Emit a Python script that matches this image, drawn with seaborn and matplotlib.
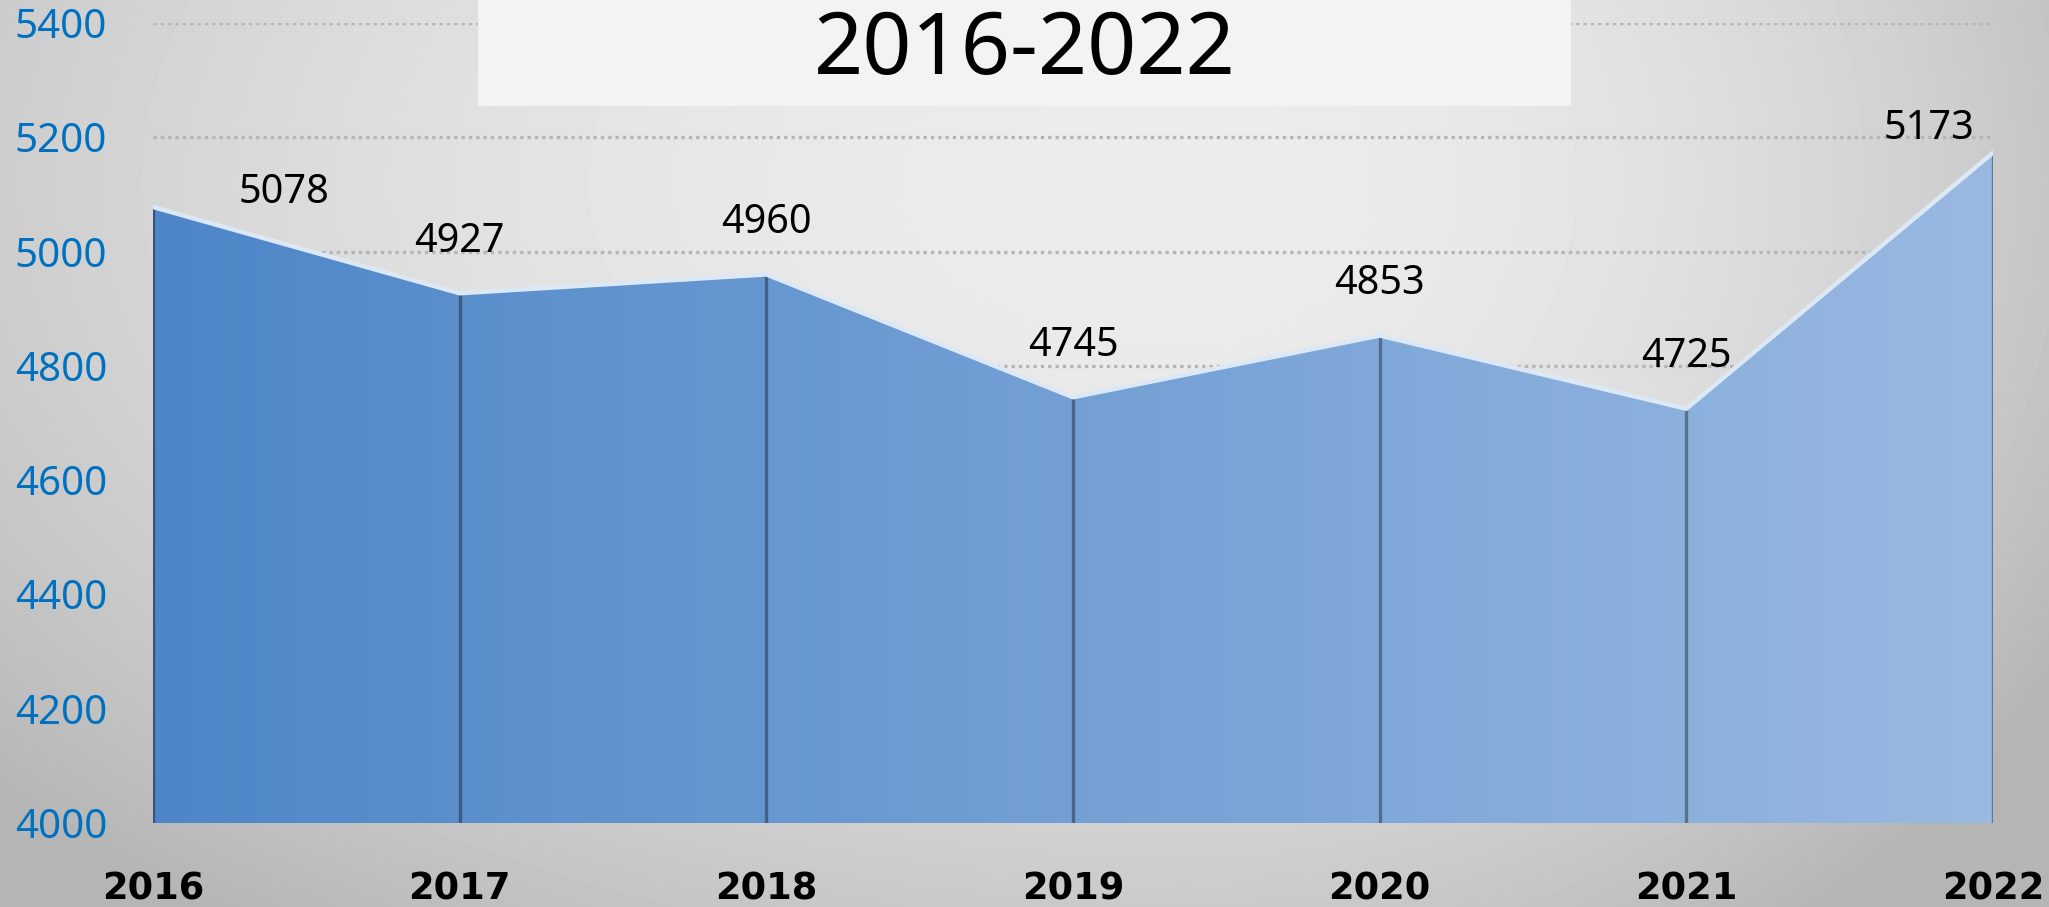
import numpy as np
import pandas as pd
import matplotlib
matplotlib.use('Agg')
import matplotlib.pyplot as plt
import seaborn as sns
from matplotlib.colors import LinearSegmentedColormap, to_rgb
from matplotlib.patches import Rectangle

# data
years = [2016, 2017, 2018, 2019, 2020, 2021, 2022]
values = [5078, 4927, 4960, 4745, 4853, 4725, 5173]
y_ticks = [4000, 4200, 4400, 4600, 4800, 5000, 5200, 5400]
title = '2016-2022'

df = pd.DataFrame({'year': years, 'value': values})

sns.set_theme(style='white')
plt.rcParams['font.family'] = ['Noto Sans', 'DejaVu Sans']

W, H = 2049, 907
fig = plt.figure(figsize=(W / 100, H / 100), dpi=100)

# grey radial background, lighter near the top middle
bg = fig.add_axes([0, 0, 1, 1], zorder=-10)
yy, xx = np.mgrid[0:1:300j, 0:1:600j]
cx, cy = 0.58, 0.2
rx = np.where(xx < cx, 0.65, 0.42)
r2 = ((xx - cx) / rx) ** 2 + ((yy - cy) / 0.85) ** 2
shade = 0.925 - 0.15 * np.minimum(r2, 1.45)
bg.imshow(shade, cmap='gray', vmin=0, vmax=1, extent=[0, 1, 0, 1],
          origin='upper', aspect='auto', interpolation='bilinear')
bg.set_axis_off()

# main axes placed to match the reference
left, right = 153 / W, 1993 / W
bottom, top = 1 - 823 / H, 1 - 23 / H
ax = fig.add_axes([left, bottom, right - left, top - bottom])
ax.patch.set_alpha(0)
ax.set_xlim(years[0], years[-1])
ax.set_ylim(y_ticks[0], y_ticks[-1])

# dotted gridlines behind the area
ax.set_axisbelow(True)
ax.yaxis.grid(True, linestyle=(0, (1, 1.2)), color='#b5b5b5', linewidth=2.4)
ax.xaxis.grid(False)

# area with horizontal gradient
poly = ax.fill_between(df['year'], df['value'], y_ticks[0], color='none', lw=0)
fill_cmap = LinearSegmentedColormap.from_list('fill', ['#4E86C8', '#99B9E1'])
grad = ax.imshow(np.linspace(0, 1, 256).reshape(1, -1), cmap=fill_cmap,
                 extent=[years[0], years[-1], y_ticks[0], y_ticks[-1]],
                 aspect='auto', zorder=2)
grad.set_clip_path(poly.get_paths()[0], transform=ax.transData)

# drop lines
c0, c1 = np.array(to_rgb('#34557F')), np.array(to_rgb('#5F7896'))
drop_cols = [tuple(c0 + (c1 - c0) * i / (len(years) - 1)) for i in range(len(years))]
ax.vlines(df['year'], y_ticks[0], df['value'], colors=drop_cols, lw=2.4, zorder=3)

# light edge line on top of the area
sns.lineplot(data=df, x='year', y='value', ax=ax, color='#DCE8F6', lw=3.2, zorder=4)
ax.axhline(y_ticks[0], color='#d6d6d6', lw=2.5, zorder=1.5)

# data labels
offsets = {2016: (94, 3), 2022: (-46, 10)}
for yr, v in zip(years, values):
    dx, dy = offsets.get(yr, (0, 30))
    ax.annotate(f'{v}', (yr, v), xytext=(dx, dy), textcoords='offset points',
                ha='center', va='baseline', fontsize=28.5, color='black', zorder=5)

ax.set_yticks(y_ticks)
ax.set_yticklabels([str(t) for t in y_ticks], color='#0070C0', fontsize=29)
ax.set_xticks(years)
ax.set_xticklabels([str(y) for y in years], fontsize=26.5, fontweight='bold',
                   color='black', family='DejaVu Sans')
ax.tick_params(axis='y', length=0, pad=33)
ax.tick_params(axis='x', length=0, pad=34)
ax.set_xlabel('')
ax.set_ylabel('')
for s in ax.spines.values():
    s.set_visible(False)

# title box
fig.patches.append(Rectangle((478 / W, 1 - 106 / H), (1571 - 478) / W, 106 / H,
                             transform=fig.transFigure, facecolor='#F3F3F3',
                             edgecolor='none', zorder=5))
fig.text(0.5, 1 - 74 / H, title, ha='center', va='baseline', fontsize=62,
         color='black', zorder=6)

fig.savefig('out.png', dpi=100)
